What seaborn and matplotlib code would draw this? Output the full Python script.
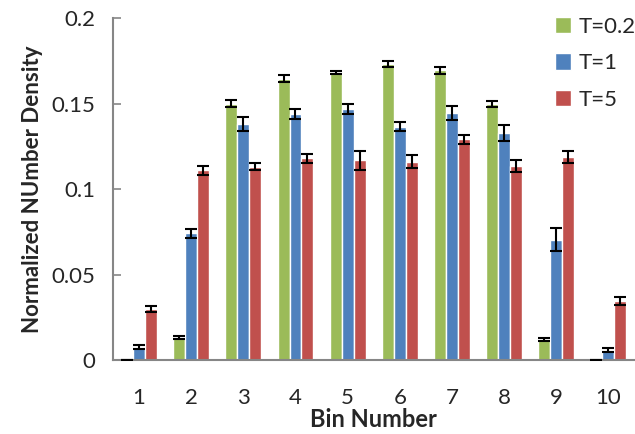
import matplotlib
matplotlib.use("Agg")
import matplotlib.pyplot as plt
import seaborn as sns
import pandas as pd
import numpy as np

bins = ["1", "2", "3", "4", "5", "6", "7", "8", "9", "10"]
series = ["T=0.2", "T=1", "T=5"]
t02 = [0.0, 0.013, 0.150, 0.1645, 0.168, 0.173, 0.1695, 0.1495, 0.012, 0.0]
t1 = [0.0076, 0.074, 0.138, 0.1437, 0.147, 0.1364, 0.1444, 0.1327, 0.0704, 0.0058]
t5 = [0.0300, 0.1110, 0.1130, 0.1180, 0.1168, 0.1160, 0.1290, 0.1136, 0.1188, 0.0343]
e02 = [0.0, 0.0010, 0.0018, 0.0020, 0.0009, 0.0018, 0.0020, 0.0017, 0.0006, 0.0]
e1 = [0.0010, 0.0027, 0.0039, 0.0030, 0.0030, 0.0027, 0.0043, 0.0047, 0.0066, 0.0012]
e5 = [0.0018, 0.0027, 0.0020, 0.0025, 0.0055, 0.0040, 0.0027, 0.0034, 0.0036, 0.0023]
colors = ["#9BBB59", "#4F81BD", "#C0504D"]

df = pd.DataFrame({
    "bin": bins * 3,
    "series": [series[0]] * 10 + [series[1]] * 10 + [series[2]] * 10,
    "value": t02 + t1 + t5,
    "err": e02 + e1 + e5,
})

sns.set_style("white")
plt.rcParams["font.family"] = ["Lato", "DejaVu Sans"]

fig = plt.figure(figsize=(6.35, 4.34), dpi=100)
ax = fig.add_axes([0.178, 0.1705, 0.821, 0.788])

sns.barplot(data=df, x="bin", y="value", hue="series", order=bins,
            hue_order=series, palette=colors, width=0.69, errorbar=None,
            saturation=1, ax=ax, legend=True)

# error bars placed at bar centers taken from the drawn patches
bars = [p for p in ax.patches if p.get_width() > 0][:30]
for i, s in enumerate(series):
    sub = df[df["series"] == s]
    for j, (v, e) in enumerate(zip(sub["value"], sub["err"])):
        p = bars[i * 10 + j]
        xc = p.get_x() + p.get_width() / 2
        ax.errorbar(xc, v, yerr=e, fmt="none", ecolor="black",
                    elinewidth=1.5, capsize=4.5, capthick=1.5, zorder=5)

ax.set_ylim(0, 0.2)
ax.set_xlim(-0.5, 9.5)
ax.set_yticks([0, 0.05, 0.1, 0.15, 0.2])
ax.set_yticklabels(["0", "0.05", "0.1", "0.15", "0.2"])
ax.set_xticks(np.arange(-0.5, 10, 1), minor=True)
ax.tick_params(axis="x", which="major", length=0, labelsize=16, pad=20)
ax.tick_params(axis="x", which="minor", direction="in", length=6,
               color="#868686", width=1.2)
ax.tick_params(axis="y", direction="in", length=6, color="#868686",
               width=1.2, labelsize=16, pad=13, left=True)
for side in ["top", "right"]:
    ax.spines[side].set_visible(False)
for side in ["left", "bottom"]:
    ax.spines[side].set_color("#868686")
    ax.spines[side].set_linewidth(1.5)

ax.set_xlabel("Bin Number", fontsize=17, fontweight="bold", labelpad=0)
ax.set_ylabel("Normalized NUmber Density", fontsize=16, fontweight="bold",
              labelpad=6)

leg = ax.legend(loc="upper left", bbox_to_anchor=(0.83, 1.03), frameon=False,
                fontsize=16, handlelength=0.75, handleheight=0.75,
                handletextpad=0.35, labelspacing=0.75, borderaxespad=0)

fig.savefig("out.png", dpi=100)
